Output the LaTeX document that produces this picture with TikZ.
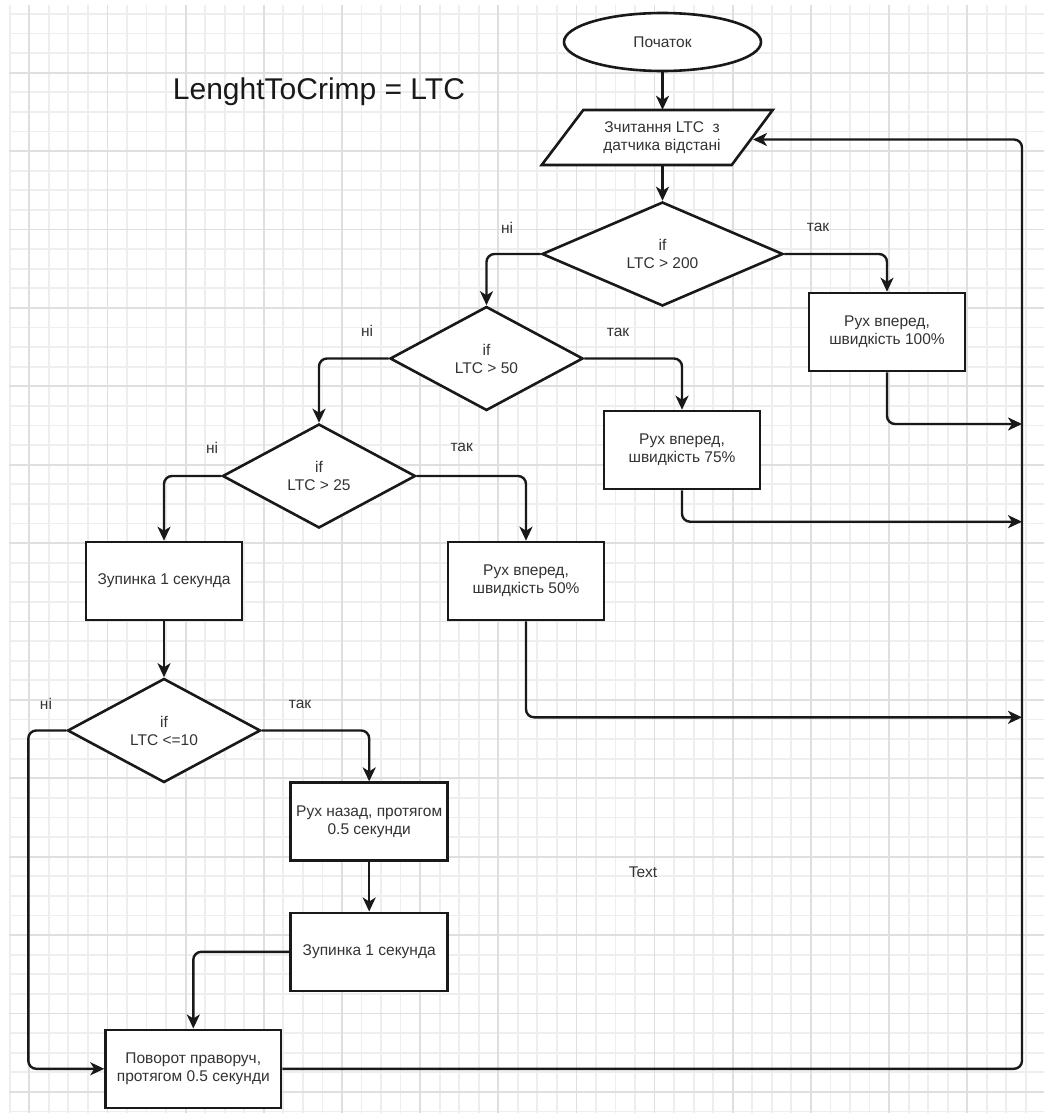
\documentclass[tikz,border=0pt]{standalone}
\usepackage{fontspec}
\setmainfont{Liberation Sans}
\usetikzlibrary{shapes.geometric,arrows.meta}
\begin{document}
\begin{tikzpicture}[x=1pt,y=-1pt,
  outline/.style={draw=black!90, line width=2.6pt, fill=white},
  shp/.style={outline, inner sep=0pt, font=\fontsize{15.5}{18}\selectfont, text=black!80, align=center},
  boxs/.style={shp, rectangle, minimum width=156pt, minimum height=78pt},
  dia/.style={shp, diamond, aspect=2, minimum height=104pt},
  conn/.style={draw=black!90, line width=2.4pt, rounded corners=8pt, -{Stealth[length=14pt,width=13pt,inset=4pt]}},
  lbl/.style={font=\fontsize{15.5}{18}\selectfont, text=black!80, inner sep=0pt, align=center},
  minorgrid/.style={draw=gray!13, line width=1.8pt},
  majorgrid/.style={draw=gray!25, line width=1.8pt}]
\useasboundingbox (0,0) rectangle (1044,1113);
\fill[white] (0,0) rectangle (1044,1113);
% grid
\begin{scope}
\clip (9,5) rectangle (1044,1113);
\foreach \k in {0,...,52} \draw[minorgrid] ({9.76+19.54*\k},5) -- ({9.76+19.54*\k},1113);
\foreach \k in {0,...,56} \draw[minorgrid] (9,{13.9+19.6*\k}) -- (1044,{13.9+19.6*\k});
\foreach \k in {1,5,...,49} \draw[majorgrid] ({9.76+19.54*\k},5) -- ({9.76+19.54*\k},1113);
\foreach \k in {3,7,...,55} \draw[majorgrid] (9,{13.9+19.6*\k}) -- (1044,{13.9+19.6*\k});
\end{scope}

% title
\node[font=\fontsize{30}{36}\selectfont, text=black!90, anchor=base west, inner sep=0pt] (title) at (172.7,99.3) {LenghtToCrimp = LTC};

% shapes
\node[shp, ellipse, minimum width=197pt, minimum height=58pt] (start) at (662.5,42) {Початок};
\draw[outline] (583.3,110) -- (772.7,110) -- (731.7,165) -- (541.7,165) -- cycle;
\node[lbl, minimum width=190pt, minimum height=55pt] (read) at (662,137.5) {Зчитання LTC\ \ з\\датчика відстані};

\node[dia, minimum width=241pt] (d1) at (662.5,254) {if\\LTC > 200};
\node[dia, minimum width=193pt] (d2) at (486.5,358.5) {if\\LTC > 50};
\node[dia, minimum width=193pt] (d3) at (319,476) {if\\LTC > 25};
\node[dia, minimum width=193pt] (d4) at (164,730.5) {if\\LTC <=10};

\node[boxs] (b100) at (887,332) {Рух вперед,\\швидкість 100\%};
\node[boxs] (b75) at (682,450) {Рух вперед,\\швидкість 75\%};
\node[boxs] (b50) at (526,581) {Рух вперед,\\швидкість 50\%};
\node[boxs] (z1) at (164,581) {Зупинка 1 секунда};
\node[boxs, minimum width=157pt] (back) at (369.2,821.7) {Рух назад, протягом\\0.5 секунди};
\node[boxs, minimum width=157pt] (z2) at (369.2,951.8) {Зупинка 1 секунда};
\node[boxs, minimum width=175.5pt] (turn) at (193.3,1068.8) {Поворот праворуч,\\протягом 0.5 секунди};

% helper coordinates
\coordinate (lft) at (28.3,1068.8);
\coordinate (rgt) at (1022,139.5);
\coordinate (readR) at (753,139.5);
\coordinate (t100) at (1022,424);
\coordinate (t75) at (1022,521.7);
\coordinate (t50) at (1022,717.3);

% connectors
\draw[conn] (start.south) -- (start.south |- read.north);
\draw[conn] (d1.north |- read.south) -- (d1.north);
\draw[conn] (d1.east) -| (b100.north);
\draw[conn] (d1.west) -| (d2.north);
\draw[conn] (d2.east) -| (b75.north);
\draw[conn] (d2.west) -| (d3.north);
\draw[conn] (d3.east) -| (b50.north);
\draw[conn] (d3.west) -| (z1.north);
\draw[conn] (z1.south) -- (d4.north);
\draw[conn] (d4.east) -| (back.north);
\draw[conn] (back.south) -- (z2.north);
\draw[conn] (z2.west) -| (turn.north);
\draw[conn] (d4.west) -| (lft) -- (turn.west);
\draw[conn] (b100.south) |- (t100);
\draw[conn] (b75.south) |- (t75);
\draw[conn] (b50.south) |- (t50);
\draw[conn] (turn.east) -| (rgt) -- (readR);

% labels
\node[lbl] (n1) at (507,228) {ні};
\node[lbl] (y1) at (818,227) {так};
\node[lbl] (n2) at (367,331) {ні};
\node[lbl] (y2) at (618,332) {так};
\node[lbl] (n3) at (212,448) {ні};
\node[lbl] (y3) at (461.7,447.7) {так};
\node[lbl] (n4) at (46,704) {ні};
\node[lbl] (y4) at (300,704) {так};
\node[lbl] (txt) at (643,872) {Text};
\end{tikzpicture}
\end{document}
